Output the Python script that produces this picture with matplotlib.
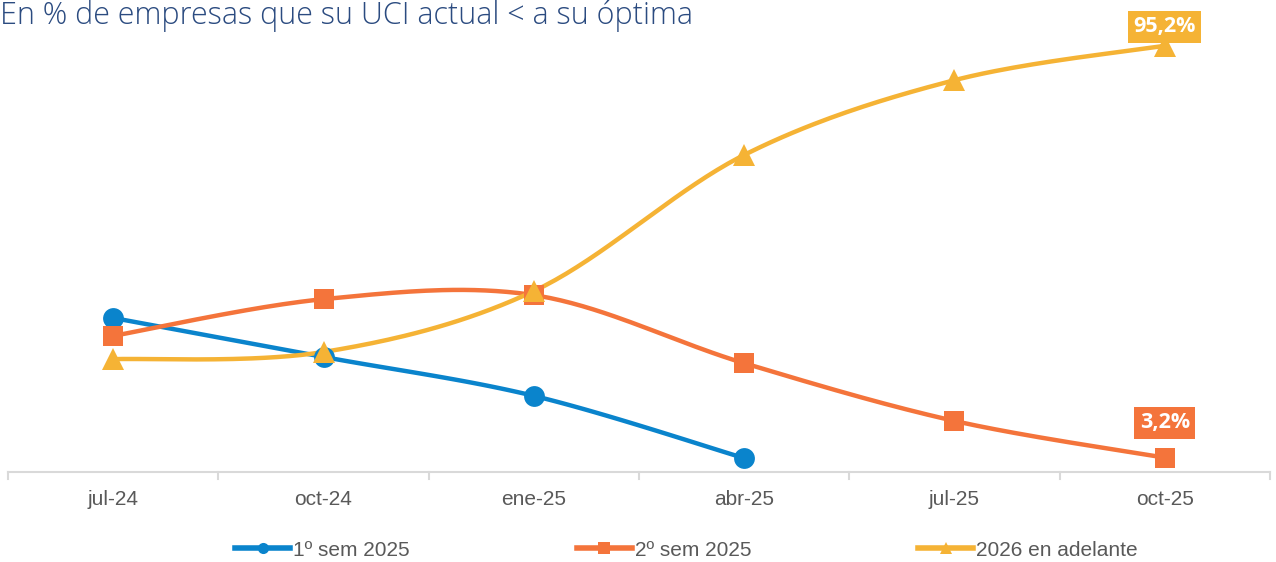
import numpy as np
import matplotlib
matplotlib.use("Agg")
import matplotlib.pyplot as plt
from matplotlib.lines import Line2D

categories = ["jul-24", "oct-24", "ene-25", "abr-25", "jul-25", "oct-25"]
s1_name = "1º sem 2025"
s2_name = "2º sem 2025"
s3_name = "2026 en adelante"
s1 = [34.4, 25.7, 17.0, 3.1]
s2 = [30.4, 38.6, 39.5, 24.3, 11.4, 3.2]
s3 = [25.2, 26.8, 40.4, 70.8, 87.5, 95.2]
title = "En % de empresas que su UCI actual < a su óptima"

c_blue = "#0A84CC"
c_orange = "#F4743B"
c_yellow = "#F5B335"


def smooth(x, y, n=40):
    x = np.asarray(x, float)
    y = np.asarray(y, float)
    P = np.column_stack([x, y])
    out = []
    for i in range(len(P) - 1):
        p0 = P[i - 1] if i > 0 else P[i]
        p1 = P[i]
        p2 = P[i + 1]
        p3 = P[i + 2] if i + 2 < len(P) else P[i + 1]
        c1 = p1 + (p2 - p0) / 6.0
        c2 = p2 - (p3 - p1) / 6.0
        t = np.linspace(0, 1, n)[:, None]
        seg = ((1 - t) ** 3) * p1 + 3 * ((1 - t) ** 2) * t * c1 + 3 * (1 - t) * t ** 2 * c2 + t ** 3 * p2
        out.append(seg if i == 0 else seg[1:])
    S = np.vstack(out)
    return S[:, 0], S[:, 1]


fig = plt.figure(figsize=(12.76, 5.62), dpi=100)
ax = fig.add_axes([8 / 1276, 1 - 472 / 562, 1262 / 1276, 447.8 / 562])
ax.set_xlim(-0.5, len(categories) - 0.5)
ax.set_ylim(0, 100)

series = [(s1, c_blue, "o", 15, s1_name),
          (s2, c_orange, "s", 14.5, s2_name),
          (s3, c_yellow, "^", 16, s3_name)]
for vals, col, mk, ms, name in series:
    xs = np.arange(len(vals))
    sx, sy = smooth(xs, vals)
    ax.plot(sx, sy, color=col, lw=3.2, solid_capstyle="round", zorder=2, clip_on=False)
    ax.plot(xs, vals, linestyle="none", marker=mk, ms=ms, color=col,
            markeredgewidth=0, zorder=3, clip_on=False)

# data labels
ax.annotate("95,2%", (5, s3[-1]), xytext=(0, 19), textcoords="offset pixels",
            ha="center", va="center", color="white", fontsize=15.5, fontweight="bold",
            family=["Open Sans", "DejaVu Sans"],
            bbox=dict(boxstyle="square,pad=0.25", fc=c_yellow, ec="none"), zorder=5)
ax.annotate("3,2%", (5, s2[-1]), xytext=(0, 35), textcoords="offset pixels",
            ha="center", va="center", color="white", fontsize=15.5, fontweight="bold",
            family=["Open Sans", "DejaVu Sans"],
            bbox=dict(boxstyle="square,pad=0.25", fc=c_orange, ec="none"), zorder=5)

for s in ["top", "right", "left"]:
    ax.spines[s].set_visible(False)
ax.spines["bottom"].set_color("#D9D9D9")
ax.spines["bottom"].set_linewidth(1.5)
ax.set_yticks([])
ax.set_xticks(range(len(categories)))
ax.set_xticklabels(categories, fontsize=15, color="#595959", family="Liberation Sans")
ax.tick_params(axis="x", length=0, pad=13)
for b in np.arange(-0.5, len(categories), 1.0):
    ax.plot([b, b], [0, -1.6], color="#D9D9D9", lw=1.5, clip_on=False)

fig.text(0.0, 1.0, title, fontsize=22, color="#2B4B80", family=["Open Sans", "DejaVu Sans"],
         fontweight="light", ha="left", va="top")

handles = [Line2D([], [], color=c, lw=4, marker=m, ms=8, markeredgewidth=0)
           for _, c, m, _, _ in series]
leg = fig.legend(handles, [s1_name, s2_name, s3_name], loc="center left",
                 bbox_to_anchor=(235 / 1276, 1 - 550 / 562),
                 ncol=3, frameon=False, handlelength=2.65, handletextpad=0.15,
                 columnspacing=8.0, borderpad=0, borderaxespad=0,
                 prop={"family": "Liberation Sans", "size": 15})
for t in leg.get_texts():
    t.set_color("#595959")

fig.savefig("out.png", dpi=100)
